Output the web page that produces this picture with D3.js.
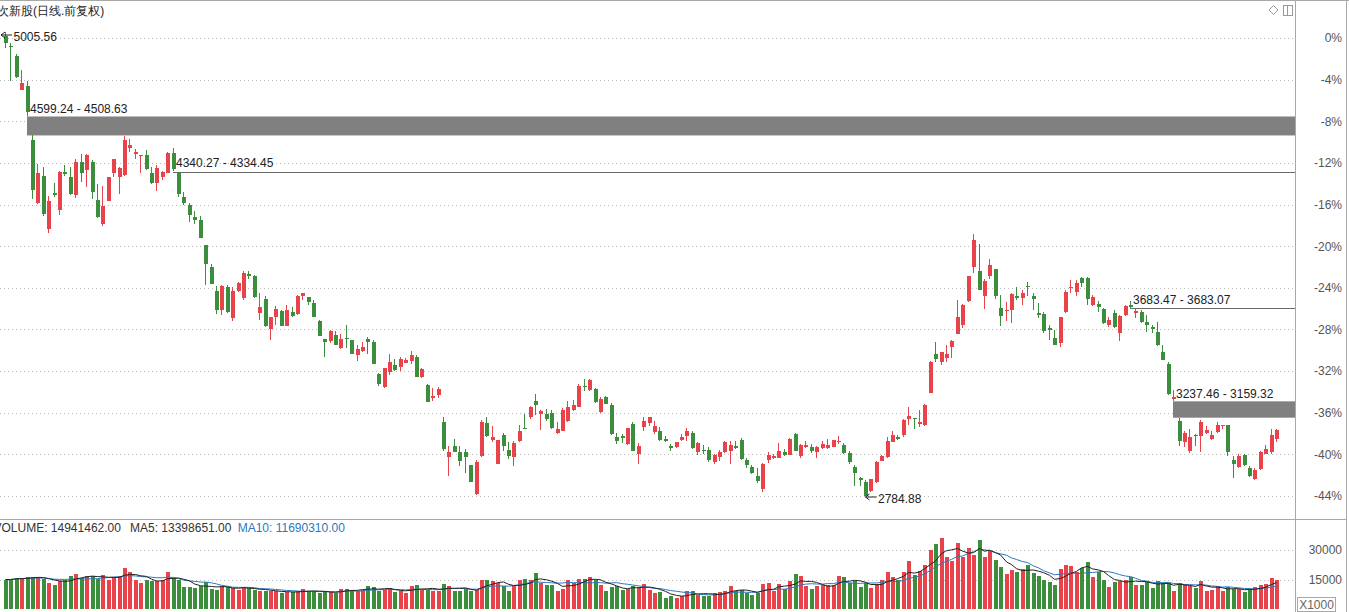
<!DOCTYPE html>
<html><head><meta charset="utf-8">
<script src="https://cdn.jsdelivr.net/npm/d3@7"></script>
<style>
html,body{margin:0;padding:0;background:#fff;overflow:hidden}
svg{display:block}
text{font-family:"Liberation Sans",Arial,sans-serif}
</style></head><body>
<svg id="c" width="1349" height="612"></svg>
<script>
// ---------------- DATA ----------------
const title = "次新股(日线.前复权)";
const opens = [
4985,4935,4890,4727,4746,4485,4184,4313,4060,4233,
4150,4333,4309,4222,4381,4342,4384,4201,4084,4196,
4329,4309,4318,4449,4421,4410,4415,4329,4280,4309,
4329,4424,4330,4212,4175,4120,4105,3985,3879,3764,
3675,3783,3635,3764,3732,3848,3836,3661,3727,3581,
3639,3671,3599,3666,3654,3741,3735,3709,3623,3534,
3524,3553,3493,3542,3530,3458,3477,3534,3521,3370,
3305,3376,3410,3400,3422,3430,3449,3353,3317,3253,
3269,3137,2969,3022,2996,2996,2934,2793,2974,3134,
3054,2940,3076,3006,2969,3049,3112,3164,3238,3178,
3178,3181,3088,3094,3145,3198,3212,3313,3294,3297,
3185,3257,3222,3068,3070,3032,3128,2988,3116,3133,
3089,3094,3058,3022,3020,3053,3073,3084,2993,3004,
3006,2949,2969,2993,3001,3025,3054,2956,2924,2881,
2817,2956,2966,2967,2995,2982,3082,2974,3019,3019,
2995,3014,3014,3019,3042,3030,2991,2922,2870,2851,
2810,2851,2953,2970,3044,3066,3075,3155,3158,3128,
3123,3278,3464,3424,3443,3496,3559,3603,3719,3879,
3860,3740,3836,3868,3684,3668,3675,3740,3732,3791,
3740,3658,3653,3586,3538,3514,3663,3778,3762,3826,
3829,3698,3703,3677,3602,3658,3562,3650,3700,3660,
3666,3618,3591,3570,3474,3417,3250,3145,3044,3001,
3078,3073,3088,3057,3089,3120,3126,2958,2925,2980,
2921,2866,2913,2988,2993,3057];
const highs = [
5005.56,4950,4900,4823,4769,4508.63,4372,4356,4221,4280,
4341,4365,4357,4397,4418,4420,4389,4276,4268,4312,
4397,4356,4505,4492,4444,4416,4437,4356,4365,4341,
4429,4449,4334.45,4236,4188,4149,4124,3985,3895,3788,
3795,3795,3784,3808,3860,3860,3842,3754,3741,3642,
3693,3675,3698,3690,3746,3757,3738,3722,3626,3534,
3580,3575,3558,3602,3530,3506,3522,3546,3530,3373,
3399,3463,3439,3449,3446,3478,3458,3397,3318,3301,
3305,3164,3025,3057,3025,3009,2934,2956,3149,3164,
3118,3054,3086,3041,3049,3126,3179,3217,3274,3197,
3202,3195,3137,3205,3241,3243,3318,3346,3346,3301,
3257,3265,3231,3084,3082,3112,3137,3036,3164,3164,
3145,3114,3073,3034,3041,3082,3109,3094,3041,3030,
3020,2985,3004,3046,3046,3049,3060,2966,2934,2921,
2945,2993,2985,3036,3011,3063,3087,3035,3049,3035,
3024,3049,3058,3051,3070,3039,3002,2932,2875,2863,
2867,2951,2983,3066,3094,3078,3155,3211,3158,3194,
3224,3430,3520,3475,3507,3531,3723,3703,3836,4039,
3991,3820,3919,3871,3748,3712,3756,3783,3771,3807,
3756,3707,3666,3602,3578,3642,3770,3818,3818,3834,
3834,3746,3719,3682,3642,3674,3650,3698,3719,3683.07,
3674,3650,3602,3618,3506,3425,3290,3159.32,3097,3106,
3080,3148,3121,3097,3137,3126,3126,2977,2985,2985,
2929,2921,2998,3028,3106,3106];
const lows = [
4925,4770,4784,4725,4599.24,4203,4180,4124,4041,4212,
4129,4316,4226,4209,4285,4260,4204,4116,4076,4193,
4309,4228,4316,4429,4396,4329,4345,4276,4241,4296,
4327,4340.27,4212,4177,4096,4084,4016,3796,3798,3655,
3651,3658,3620,3762,3724,3824,3730,3626,3593,3530,
3602,3596,3597,3642,3650,3722,3698,3639,3549,3450,
3518,3505,3486,3494,3462,3431,3474,3466,3414,3313,
3302,3362,3381,3382,3420,3417,3353,3348,3233,3241,
3254,2998,2881,2993,2929,2897,2853,2790,2969,3065,
3041,2937,3001,2961,2929,3041,3105,3153,3173,3101,
3145,3107,3080,3094,3140,3193,3210,3287,3287,3231,
3182,3226,3075,3032,3039,3030,2998,2940,3097,3121,
3082,3049,3041,2998,3014,3049,3046,3009,2982,2985,
2949,2940,2951,2990,2940,3009,2956,2921,2892,2849,
2805,2945,2961,2966,2976,2980,2998,2966,3015,2992,
2966,3011,3011,3019,3035,2986,2938,2834,2834,2784.88,
2805,2849,2951,2966,3042,3054,3067,3122,3104,3115,
3120,3275,3424,3411,3427,3443,3558,3588,3713,3852,
3772,3680,3820,3727,3596,3620,3611,3723,3697,3740,
3675,3634,3562,3530,3505,3498,3658,3754,3741,3786,
3698,3693,3666,3607,3593,3590,3526,3645,3683.47,3634,
3610,3570,3562,3503,3434,3270,3237.46,3025,3017,2990,
3025,2993,3080,3052,3084,3106,2974,2872,2920,2929,
2876,2860,2908,2985,2988,3041];
const closes = [
4950,4930,4789,4760,4621,4246,4329,4132,4193,4225,
4333,4322,4228,4381,4329,4415,4236,4120,4172,4309,
4394,4353,4485,4461,4429,4415,4347,4281,4351,4333,
4424,4348,4228,4184,4127,4103,4017,3892,3799,3675,
3791,3663,3764,3804,3852,3837,3735,3690,3597,3639,
3677,3599,3674,3646,3741,3754,3714,3642,3551,3521,
3572,3505,3534,3538,3462,3490,3498,3521,3417,3322,
3395,3424,3389,3439,3434,3461,3353,3391,3236,3265,
3297,3009,2996,2996,2953,2969,2853,2948,3137,3070,
3068,3054,3025,2977,3036,3097,3107,3212,3221,3190,
3154,3110,3104,3198,3212,3220,3313,3306,3338,3233,
3250,3226,3082,3049,3062,3109,3001,3025,3145,3161,
3121,3053,3046,3014,3041,3066,3094,3014,3036,2998,
2956,2982,2993,3041,3030,3012,2962,2934,2897,2857,
2940,2982,2976,3001,2982,3058,3002,3030,3027,2999,
3019,3035,3030,3051,3050,2991,2946,2894,2862,2786,
2867,2946,2977,3049,3078,3059,3150,3166,3151,3138,
3219,3427,3439,3472,3464,3524,3639,3697,3836,4007,
3772,3815,3887,3740,3644,3675,3751,3732,3756,3783,
3728,3650,3574,3578,3509,3642,3762,3786,3802,3805,
3727,3738,3690,3610,3626,3593,3645,3693,3690,3667,
3618,3602,3581,3506,3437,3273,3260,3049,3084,3068,
3073,3137,3100,3076,3126,3126,2993,2937,2977,2934,
2881,2910,2993,3009,3078,3100];
// volume in units of 1000 shares (axis is X1000)
const volumes = [
15000,15000,15900,15900,16200,16200,16200,15500,13300,12400,
14100,15000,16700,17600,15900,16700,16700,15500,17100,14700,
16400,16700,21000,18800,14700,13300,15000,14100,14100,15000,
18800,15900,15000,11000,11000,10700,11500,13800,10300,9800,
11500,11000,10700,9800,11000,10700,9800,9000,9300,9000,
9300,8100,8400,8600,9000,10300,9000,9000,8100,8600,
8600,8100,10300,10300,9800,9000,9800,11500,11000,9300,
9800,10700,8600,9000,8100,11500,12400,9800,9500,9300,
9300,12900,11900,9300,9300,10300,9300,9500,15000,15000,
14100,13300,11500,9000,11900,14500,15500,15000,18100,13300,
12400,12100,9300,10300,14700,13300,15500,15500,16200,15000,
12100,9300,11000,11500,9500,10200,11900,11000,12800,9800,
8100,8400,5800,6400,5800,6400,9300,9300,7200,6700,
6400,8100,8400,9300,11500,9300,9800,8100,6900,8100,
12900,13300,9000,12800,10300,14100,17600,16700,11500,10300,
11500,12400,12100,12400,16700,16200,13300,14300,11000,13100,
10700,12800,14500,18800,16200,14700,18800,24500,17100,19300,
22400,30000,33100,36200,26500,24500,33600,26500,31000,27600,
35200,26500,29300,25000,21400,17600,19700,18800,20200,22400,
18100,16700,15000,13600,12100,20200,22400,21900,19000,21000,
24000,16200,19000,15000,11000,13600,14100,14700,16200,12400,
12400,13800,10700,14100,13300,13300,9000,13300,12400,11900,
10700,14100,9300,9800,11500,9300,11000,10000,10000,8700,
10200,11000,12400,12900,15800,14941.462];
const basePrice = 4974;                       // price at the 0% line
const pctTicks = [0,-4,-8,-12,-16,-20,-24,-28,-32,-36,-40,-44];
const volTicks = [15000,30000];
const volHeader = ["VOLUME: 14941462.00", "MA5: 13398651.00", "MA10: 11690310.00"];
// unfilled gaps: [start candle index, upper price, lower price]
const gaps = [[4,4599.24,4508.63],[31,4340.27,4334.45],[208,3683.47,3683.07],[216,3237.46,3159.32]];

// ---------------- CHART ----------------
const RED = "#e8434b", GREEN = "#3b8e3b";
const N = opens.length;
const svg = d3.select("#c");
const plotR = 1295;

const x = d3.scaleBand().domain(d3.range(N)).range([2.3, 1278.7]);
const cx = i => Math.round(x(i) + x.bandwidth()/2);
const y = d3.scaleLinear().domain([d3.min(lows), d3.max(highs)]).range([496, 31.5]);
const yPct = d3.scaleLinear()
  .domain(y.domain().map(p => (p/basePrice - 1)*100)).range(y.range());
const yv = d3.scaleLinear().domain([0, 30000]).range([609, 550]);

svg.append("rect").attr("width",1349).attr("height",612).attr("fill","#fff");

// frame
const frame = svg.append("g").attr("stroke","#a8a8a8").attr("shape-rendering","crispEdges");
frame.append("line").attr("x1",0).attr("x2",1349).attr("y1",0.5).attr("y2",0.5);
frame.append("line").attr("x1",plotR+0.5).attr("x2",plotR+0.5).attr("y1",0).attr("y2",612);
frame.append("line").attr("x1",1346.5).attr("x2",1346.5).attr("y1",0).attr("y2",612);
frame.append("line").attr("x1",0).attr("x2",1347).attr("y1",519.5).attr("y2",519.5);

// gridlines
const grid = svg.append("g").attr("stroke","#bdbdbd").attr("stroke-dasharray","1,3")
  .attr("shape-rendering","crispEdges");
grid.selectAll("line.p").data(pctTicks).join("line")
  .attr("x1",0).attr("x2",plotR).attr("y1",d=>Math.round(yPct(d))+0.5).attr("y2",d=>Math.round(yPct(d))+0.5);
grid.selectAll("line.v").data(volTicks).join("line")
  .attr("x1",0).attr("x2",plotR).attr("y1",d=>Math.round(yv(d))+0.5).attr("y2",d=>Math.round(yv(d))+0.5);

// axes
const ax1 = svg.append("g").attr("transform",`translate(${plotR},0)`)
  .call(d3.axisRight(yPct).tickValues(pctTicks).tickFormat(d=>d+"%").tickSize(0));
const ax2 = svg.append("g").attr("transform",`translate(${plotR},0)`)
  .call(d3.axisRight(yv).tickValues(volTicks).tickFormat(d=>d).tickSize(0));
[ax1,ax2].forEach(a=>{
  a.select(".domain").remove();
  a.selectAll("text").attr("x",47).attr("text-anchor","end").attr("fill","#555")
   .attr("font-size",12).attr("font-family","Liberation Sans, Arial, sans-serif");
});

// gap bands / lines
const gg = svg.append("g");
gaps.forEach(([i,hi,lo])=>{
  const x0 = cx(i), y0 = y(hi), y1 = y(lo);
  if (y1 - y0 >= 3) {
    gg.append("rect").attr("x",x0).attr("width",plotR-x0).attr("y",y0).attr("height",y1-y0).attr("fill","#808080");
  } else {
    gg.append("line").attr("x1",x0).attr("x2",plotR).attr("y1",Math.round(y1)+0.5).attr("y2",Math.round(y1)+0.5)
      .attr("stroke","#6a6a6a").attr("shape-rendering","crispEdges");
  }
  gg.append("text").attr("x",x0+3).attr("y",y0-8).attr("dy","0.35em").attr("font-size",12).attr("fill","#222")
    .text(`${hi.toFixed(2)} - ${lo.toFixed(2)}`);
});

// candles
const cg = svg.append("g").attr("shape-rendering","crispEdges");
cg.selectAll("g").data(d3.range(N)).join("g").each(function(i){
  const col = closes[i] >= opens[i] ? RED : GREEN;
  const g = d3.select(this), xc = cx(i);
  g.append("line").attr("x1",xc+0.5).attr("x2",xc+0.5).attr("y1",y(highs[i])).attr("y2",y(lows[i])).attr("stroke",col);
  const t = y(Math.max(opens[i],closes[i])), b = y(Math.min(opens[i],closes[i]));
  g.append("rect").attr("x",xc-1).attr("width",4).attr("y",t).attr("height",Math.max(1,b-t)).attr("fill",col);
});

// high / low markers
function marker(i, price, textDy, dx){
  const xc = cx(i) + 0.5 + dx, yy = y(price) + textDy;
  const m = svg.append("g").attr("stroke","#222").attr("fill","none");
  m.append("line").attr("x1",xc).attr("x2",xc+11).attr("y1",yy).attr("y2",yy);
  m.append("path").attr("d",`M${xc+4},${yy-3}L${xc},${yy}L${xc+4},${yy+3}`);
  svg.append("text").attr("x",xc+12.5).attr("y",yy+1.5).attr("dy","0.35em").attr("font-size",12).attr("fill","#222")
    .text(price.toFixed(2));
}
const iHi = d3.maxIndex(highs), iLo = d3.minIndex(lows);
marker(iHi, highs[iHi], 3.5, -4.5);
marker(iLo, lows[iLo], 1, 0);

// volume bars
const vg = svg.append("g").attr("shape-rendering","crispEdges");
vg.selectAll("rect").data(volumes).join("rect")
  .attr("x",(d,i)=>cx(i)-1).attr("width",4)
  .attr("y",d=>yv(d)).attr("height",d=>yv(0)-yv(d))
  .attr("fill",(d,i)=> closes[i] >= opens[i] ? RED : GREEN);

const ma = n => volumes.map((v,i)=>d3.mean(volumes.slice(Math.max(0,i-n+1),i+1)));
const ln = d3.line().x((d,i)=>cx(i)+0.5).y(d=>yv(d)).curve(d3.curveLinear);
svg.append("path").datum(ma(10)).attr("d",ln).attr("fill","none").attr("stroke","#2a78c0").attr("stroke-width",1);
svg.append("path").datum(ma(5)).attr("d",ln).attr("fill","none").attr("stroke","#222").attr("stroke-width",1);

// volume header
const hx = [-6.5, 130, 237.7], hc = ["#333","#333","#2a78c0"];
svg.selectAll("text.vh").data(volHeader).join("text").attr("class","vh")
  .attr("x",(d,i)=>hx[i]).attr("y",532).attr("font-size",12).attr("fill",(d,i)=>hc[i]).text(d=>d);

// X1000 box
svg.append("rect").attr("x",1297.5).attr("y",597.5).attr("width",38).attr("height",14)
  .attr("fill","none").attr("stroke","#a8a8a8").attr("shape-rendering","crispEdges");
svg.append("text").attr("x",1316.5).attr("y",605).attr("dy","0.35em").attr("text-anchor","middle")
  .attr("font-size",12).attr("fill","#666").text("X1000");

// title
svg.append("text").attr("x",-3).attr("y",10.5).attr("dy","0.35em").attr("font-size",12)
  .attr("font-family","'Noto Sans CJK SC', sans-serif").attr("fill","#222").text(title);

// top-right icons
const ic = svg.append("g").attr("fill","none").attr("stroke","#9a9a9a");
ic.append("path").attr("d","M1273.5,5.5L1278,10L1273.5,14.5L1269,10Z");
ic.append("rect").attr("x",1283.5).attr("y",5.5).attr("width",9).attr("height",10).attr("shape-rendering","crispEdges");
ic.append("line").attr("x1",1287.5).attr("x2",1287.5).attr("y1",5.5).attr("y2",15.5).attr("shape-rendering","crispEdges");
</script>
</body></html>
